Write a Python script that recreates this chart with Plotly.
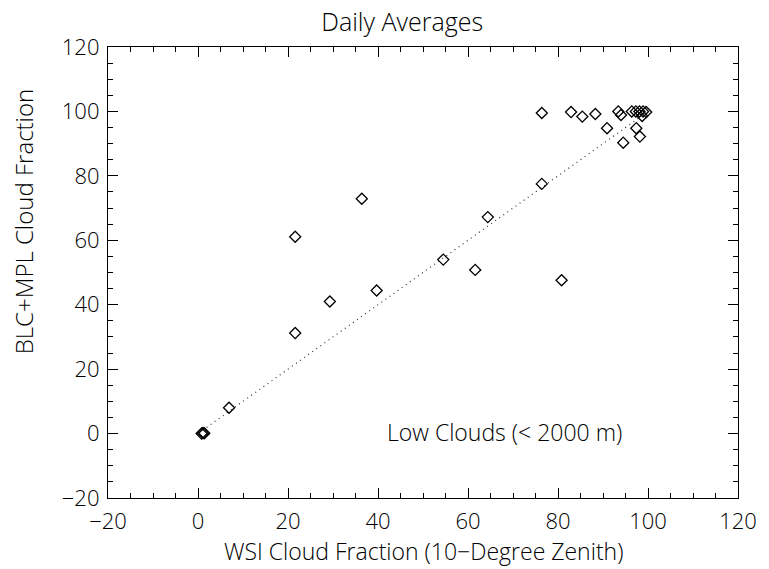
import plotly.graph_objects as go

# Daily-average cloud fraction: WSI (10-degree zenith) vs BLC+MPL
wsi_cf = [76.4, 82.9, 85.4, 88.3, 93.4, 94.0, 96.4, 97.3, 98.1, 98.9, 99.6, 98.7,
          90.9, 97.4, 98.2, 94.5, 76.4, 64.4, 54.5, 61.6, 80.8, 36.4, 21.6, 39.7,
          29.3, 21.6, 6.9, 1.1, 0.8, 1.4]
blc_mpl_cf = [99.5, 99.8, 98.4, 99.2, 100.0, 98.9, 100.0, 100.0, 100.0, 100.0, 99.8, 98.6,
              94.8, 94.8, 92.2, 90.3, 77.5, 67.2, 54.0, 50.8, 47.6, 72.9, 61.1, 44.4,
              41.0, 31.2, 8.0, 0.2, 0.0, 0.1]

# Dotted reference line
line_x = [1.0, 99.6]
line_y = [1.0, 99.6]

tick_vals = [-20, 0, 20, 40, 60, 80, 100, 120]

FONT = "Open Sans"
W = 300

fig = go.Figure()
fig.add_trace(go.Scatter(
    x=line_x, y=line_y, mode="lines",
    line=dict(color="#333333", width=1.2, dash="1px,4px"),
    hoverinfo="skip", showlegend=False,
))
fig.add_trace(go.Scatter(
    x=wsi_cf, y=blc_mpl_cf, mode="markers",
    marker=dict(symbol="diamond-open", size=8.5, color="black", line=dict(width=1.3, color="black")),
    showlegend=False,
))

axis_common = dict(
    range=[-20, 120], tickvals=tick_vals, ticks="inside", ticklen=10, tickwidth=1,
    tickcolor="black", showline=True, linecolor="black", linewidth=1.2,
    mirror="allticks", showgrid=False, zeroline=False,
    minor=dict(ticks="inside", ticklen=5, tickwidth=1, tickcolor="black", dtick=5, showgrid=False),
    tickfont=dict(family=FONT, size=22, color="black", weight=W),
)

fig.update_xaxes(**axis_common, ticklabelstandoff=3)
fig.update_yaxes(**axis_common, ticklabelstandoff=3)

# Axis titles
fig.add_annotation(
    x=0.5, y=-0.1175, xref="paper", yref="paper", xanchor="center", yanchor="middle",
    text="WSI Cloud Fraction (10\u2212Degree Zenith)", showarrow=False,
    font=dict(family=FONT, size=23, color="black", weight=W),
)
fig.add_annotation(
    x=-0.1346, y=0.614, xref="paper", yref="paper", xanchor="center", yanchor="middle",
    text="BLC+MPL Cloud Fraction", showarrow=False, textangle=-90,
    font=dict(family=FONT, size=24, color="black", weight=W),
)

fig.add_annotation(
    x=41.5, y=0.5, xref="x", yref="y", xanchor="left", yanchor="middle",
    text="Low Clouds (< 2000 m)", showarrow=False,
    font=dict(family=FONT, size=23, color="black", weight=W),
)

fig.update_layout(
    width=769, height=569,
    margin=dict(l=108, r=22, t=47, b=71),
    paper_bgcolor="white", plot_bgcolor="white",
    title=dict(text="Daily Averages", x=0.523, xanchor="center", y=0.961, yanchor="middle",
               font=dict(family=FONT, size=25, color="black", weight=W)),
)

fig.write_html("out.html")
